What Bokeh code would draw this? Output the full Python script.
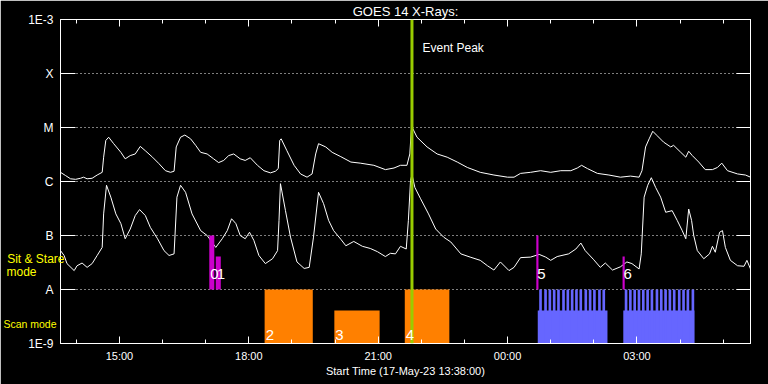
import numpy as np
import pandas as pd
from bokeh.plotting import figure
from bokeh.models import (Range1d, FixedTicker, LinearAxis, LogAxis, Span, Label, LabelSet,
                          ColumnDataSource, CustomJSTickFormatter)
from bokeh.core.properties import value
from bokeh.embed import file_html
from bokeh.resources import INLINE

# ---------------- data ----------------
start_time = "2023-05-17 13:38:00"
end_time = "2023-05-18 05:38:00"

x_tick_times = ["2023-05-17 15:00", "2023-05-17 18:00", "2023-05-17 21:00",
                "2023-05-18 00:00", "2023-05-18 03:00"]
x_tick_labels = ["15:00", "18:00", "21:00", "00:00", "03:00"]

y_levels = [1e-9, 1e-8, 1e-7, 1e-6, 1e-5, 1e-4, 1e-3]
y_tick_labels = ["1E-9", "A", "B", "C", "M", "X", "1E-3"]
grid_levels = [1e-8, 1e-7, 1e-6, 1e-5, 1e-4]

# mode captions on the left side: (text, flux level of its centre)
mode_captions = ["mode", "Sit & Stare", "Scan mode"]
mode_caption_levels = [2.15e-8, 3.67e-8, 2.3e-9]

# GOES long channel (1-8 A): minutes after start, log10 flux
long_min = [0, 7, 14, 21, 28, 32, 37, 44, 51, 58, 60, 63, 67, 74, 84, 90, 97, 104, 111, 118,
            128, 137, 146, 153, 158, 161, 167, 173, 181, 188, 195, 204, 213, 220, 227, 234,
            241, 250, 257, 264, 274, 283, 292, 299, 303, 305, 307, 315, 325, 334, 343, 350,
            355, 359, 369, 378, 390, 404, 417, 436, 452, 464, 473, 482, 486, 488, 489, 496,
            510, 524, 538, 552, 566, 584, 603, 622, 631, 640, 654, 668, 682, 696, 710, 719,
            725, 733, 747, 763, 779, 793, 805, 809, 814, 819, 824, 830, 839, 849, 853, 863,
            870, 874, 879, 888, 897, 907, 914, 920, 928, 942, 953, 960]
long_log10 = [-5.83, -5.89, -5.95, -5.96, -5.94, -5.92, -5.95, -5.94, -5.88, -5.83, -5.55,
              -5.24, -5.18, -5.30, -5.46, -5.58, -5.52, -5.49, -5.35, -5.43, -5.55, -5.67,
              -5.80, -5.83, -5.81, -5.36, -5.18, -5.14, -5.21, -5.33, -5.46, -5.49, -5.58,
              -5.65, -5.61, -5.52, -5.49, -5.58, -5.61, -5.56, -5.70, -5.80, -5.84, -5.81,
              -5.76, -5.24, -5.21, -5.43, -5.70, -5.86, -5.92, -5.86, -5.49, -5.30, -5.36,
              -5.46, -5.54, -5.64, -5.66, -5.70, -5.78, -5.75, -5.70, -5.70, -5.49, -5.06,
              -4.99, -5.18, -5.36, -5.49, -5.55, -5.64, -5.74, -5.83, -5.88, -5.92, -5.92,
              -5.85, -5.83, -5.80, -5.83, -5.80, -5.80, -5.75, -5.70, -5.76, -5.85, -5.88,
              -5.92, -5.90, -5.92, -5.80, -5.36, -5.21, -5.07, -5.15, -5.27, -5.36, -5.33,
              -5.46, -5.55, -5.44, -5.52, -5.64, -5.78, -5.78, -5.74, -5.66, -5.80, -5.86,
              -5.88, -5.92]

# GOES short channel (0.5-4 A)
short_min = [0, 5, 9, 19, 23, 30, 37, 44, 51, 58, 60, 64, 70, 77, 84, 90, 97, 104, 110, 118,
             125, 135, 144, 151, 158, 162, 167, 174, 183, 195, 204, 216, 225, 232, 238, 244,
             250, 257, 263, 269, 276, 285, 295, 302, 304, 306, 313, 320, 329, 339, 346, 352,
             359, 366, 373, 380, 390, 397, 408, 420, 431, 441, 452, 459, 466, 473, 481, 484,
             487, 489, 493, 501, 512, 522, 533, 543, 557, 570, 584, 594, 603, 612, 624, 631,
             640, 654, 666, 675, 682, 691, 707, 717, 724, 730, 742, 751, 758, 768, 779, 788,
             795, 805, 808, 812, 817, 822, 828, 835, 842, 851, 858, 865, 870, 874, 878, 881,
             886, 895, 903, 907, 911, 917, 921, 925, 932, 942, 951, 955, 960]
short_log10 = [-7.28, -7.37, -7.52, -7.65, -7.56, -7.51, -7.59, -7.52, -7.37, -7.22, -6.60,
               -6.07, -6.29, -6.60, -6.78, -7.06, -6.88, -6.63, -6.52, -6.63, -6.85, -7.06,
               -7.28, -7.37, -7.34, -6.29, -6.07, -6.20, -6.60, -6.91, -7.00, -7.22, -7.06,
               -6.91, -6.69, -6.78, -7.00, -7.06, -6.94, -7.09, -7.37, -7.52, -7.43, -7.28,
               -6.72, -6.04, -6.54, -7.03, -7.49, -7.61, -7.59, -7.03, -6.20, -6.41, -6.72,
               -6.91, -7.07, -7.19, -7.11, -7.20, -7.24, -7.30, -7.39, -7.33, -7.34, -7.20,
               -7.25, -6.72, -5.98, -5.87, -6.11, -6.32, -6.60, -6.88, -7.03, -7.12, -7.34,
               -7.40, -7.46, -7.56, -7.64, -7.49, -7.65, -7.59, -7.41, -7.40, -7.35, -7.40,
               -7.46, -7.39, -7.34, -7.25, -7.14, -7.28, -7.45, -7.59, -7.51, -7.64, -7.58,
               -7.49, -7.52, -7.62, -7.34, -6.29, -6.07, -5.93, -6.11, -6.29, -6.57, -6.54,
               -6.72, -6.91, -7.06, -6.51, -6.72, -7.00, -7.28, -7.43, -7.34, -7.20, -7.31,
               -6.94, -6.91, -7.22, -7.46, -7.56, -7.57, -7.46, -7.62]

event_peak_min = 489

# Sit & Stare observations (magenta)
sit_ids = ["0", "1", "5", "6"]
sit_start_min = [207, 216, 662, 782]
sit_end_min = [214, 223, 665, 785]
sit_top = [1.0e-7, 4.1e-8, 1.0e-7, 4.1e-8]
sit_bottom = 1e-8

# Scan observations (orange)
scan_ids = ["2", "3", "4"]
scan_start_min = [284, 381, 479]
scan_end_min = [351, 444, 541]
scan_top = [1e-8, 4.1e-9, 1e-8]
scan_bottom = 1e-9

# Scan sequences (blue)
seq_start_min = [664, 783]
seq_end_min = [761, 882]
seq_top = 4.1e-9
seq_raster_min = [666, 673, 679, 685, 691, 698, 704, 710, 716, 722, 729, 735, 741, 748, 754,
                  785, 791, 797, 803, 809, 815, 821, 828, 834, 840, 846, 852, 859, 865, 871, 878]
seq_raster_dur = 3.7
seq_raster_top = 1e-8

# ---------------- helpers ----------------
t0_ms = pd.Timestamp(start_time).value / 1e6
t1_ms = pd.Timestamp(end_time).value / 1e6


def to_ms(minutes):
    return t0_ms + np.asarray(minutes, dtype=float) * 60000.0


xt_ms = [pd.Timestamp(s).value / 1e6 for s in x_tick_times]
minor_ms = [t.value / 1e6 for t in pd.date_range("2023-05-17 14:00", "2023-05-18 05:00", freq="h")]

FONT = "Liberation Sans"

p = figure(frame_width=690, frame_height=324, x_axis_type="datetime", y_axis_type="log",
           x_range=Range1d(t0_ms, t1_ms), y_range=Range1d(1e-9, 1e-3),
           output_backend="svg", toolbar_location=None,
           min_border_left=60, min_border_right=18, min_border_top=19, min_border_bottom=41,
           background_fill_color="black", border_fill_color="black",
           outline_line_color="white", outline_line_width=1)

# title
p.title.text = "GOES 14 X-Rays:"
p.title.align = "center"
p.title.text_color = "white"
p.title.text_font = FONT
p.title.text_font_size = "13px"
p.title.text_font_style = "normal"
p.title.standoff = 2

# grid
p.xgrid.visible = False
p.ygrid.ticker = FixedTicker(ticks=grid_levels)
p.ygrid.grid_line_color = "white"
p.ygrid.grid_line_dash = "1 3"
p.ygrid.grid_line_width = 1

# bottom axis
xa = p.xaxis[0]
xa.ticker = FixedTicker(ticks=xt_ms, minor_ticks=minor_ms)
xa.formatter = CustomJSTickFormatter(args=dict(tick_vals=xt_ms, tick_texts=x_tick_labels), code="""
for (let i = 0; i < tick_vals.length; i++) {
  if (Math.abs(tick_vals[i] - tick) < 1) return tick_texts[i];
}
return '';
""")
xa.major_tick_in = 7
xa.major_tick_out = 0
xa.minor_tick_in = 4
xa.minor_tick_out = 0
xa.axis_line_color = "white"
xa.major_tick_line_color = "white"
xa.minor_tick_line_color = "white"
xa.major_label_text_color = "white"
xa.major_label_text_font = FONT
xa.major_label_text_font_size = "11px"
xa.major_label_standoff = 6
xa.axis_label = "Start Time (17-May-23 13:38:00)"
xa.axis_label_text_color = "white"
xa.axis_label_text_font = FONT
xa.axis_label_text_font_size = "11px"
xa.axis_label_text_font_style = "normal"
xa.axis_label_standoff = 0

top = LinearAxis(ticker=FixedTicker(ticks=xt_ms, minor_ticks=minor_ms),
                 major_tick_in=7, major_tick_out=0, minor_tick_in=4, minor_tick_out=0,
                 axis_line_color="white", major_tick_line_color="white",
                 minor_tick_line_color="white", major_label_text_color=None,
                 major_label_standoff=0)
p.add_layout(top, "above")

# left axis with GOES class labels
ya = p.yaxis[0]
ya.ticker = FixedTicker(ticks=y_levels)
ya.formatter = CustomJSTickFormatter(args=dict(lv=y_levels, tx=y_tick_labels), code="""
for (let i = 0; i < lv.length; i++) {
  if (Math.abs(Math.log10(lv[i]) - Math.log10(tick)) < 0.01) return tx[i];
}
return '';
""")
ya.major_tick_in = 15
ya.major_tick_out = 0
ya.minor_tick_line_color = None
ya.axis_line_color = "white"
ya.major_tick_line_color = "white"
ya.major_label_text_color = "white"
ya.major_label_text_font = FONT
ya.major_label_text_font_size = "12px"
ya.major_label_standoff = 7

# extra label-only axes on the left carrying the yellow mode captions
caption_sizes = ["12px", "12px", "10.5px"]
caption_standoffs = [-11, -61, -53]
for txt, lvl, fs, so in zip(mode_captions, mode_caption_levels, caption_sizes, caption_standoffs):
    cap_axis = LogAxis(ticker=FixedTicker(ticks=[lvl]),
                       formatter=CustomJSTickFormatter(args=dict(t=txt), code="return t;"),
                       axis_line_color=None, major_tick_line_color=None,
                       minor_tick_line_color=None, major_tick_in=0, major_tick_out=0,
                       minor_tick_in=0, minor_tick_out=0,
                       major_label_standoff=so, major_label_text_color="#ffff00",
                       major_label_text_font=FONT, major_label_text_font_size=fs)
    p.add_layout(cap_axis, "left")

right = LogAxis(ticker=FixedTicker(ticks=y_levels), major_tick_in=14, major_tick_out=0,
                minor_tick_line_color=None, axis_line_color="white",
                major_tick_line_color="white", major_label_text_color=None,
                major_label_standoff=0)
p.add_layout(right, "right")

# curves
p.line(to_ms(long_min), 10 ** np.asarray(long_log10), line_color="white", line_width=1)
p.line(to_ms(short_min), 10 ** np.asarray(short_log10), line_color="white", line_width=1)

# bars
p.quad(left=to_ms(seq_start_min), right=to_ms(seq_end_min), bottom=scan_bottom, top=seq_top,
       fill_color="#6666ff", line_color=None)
p.quad(left=to_ms(seq_raster_min), right=to_ms(np.asarray(seq_raster_min) + seq_raster_dur),
       bottom=scan_bottom, top=seq_raster_top, fill_color="#6666ff", line_color=None)
p.quad(left=to_ms(scan_start_min), right=to_ms(scan_end_min), bottom=scan_bottom, top=scan_top,
       fill_color="#ff8000", line_color=None)
p.quad(left=to_ms(sit_start_min), right=to_ms(sit_end_min), bottom=sit_bottom, top=sit_top,
       fill_color="#cc00cc", line_color=None)

# event peak
p.add_layout(Span(location=float(to_ms([event_peak_min])[0]), dimension="height",
                  line_color="#99cc00", line_width=3))
p.add_layout(Label(x=362, y=296, x_units="screen", y_units="screen", text="Event Peak",
                   text_color="white", text_font=FONT, text_font_size="12px",
                   text_baseline="alphabetic"))

# bar labels
sit_src = ColumnDataSource(dict(x=to_ms(sit_start_min), y=[sit_bottom] * len(sit_ids), t=sit_ids))
p.add_layout(LabelSet(x="x", y="y", text="t", source=sit_src, x_offset=1, y_offset=11,
                      text_color="white", text_font=value(FONT), text_font_size="15px",
                      text_baseline="alphabetic"))
scan_src = ColumnDataSource(dict(x=to_ms(scan_start_min), y=[scan_bottom] * len(scan_ids), t=scan_ids))
p.add_layout(LabelSet(x="x", y="y", text="t", source=scan_src, x_offset=1, y_offset=4,
                      text_color="white", text_font=value(FONT), text_font_size="15px",
                      text_baseline="alphabetic"))

open("out.html", "w").write(file_html(p, INLINE))
